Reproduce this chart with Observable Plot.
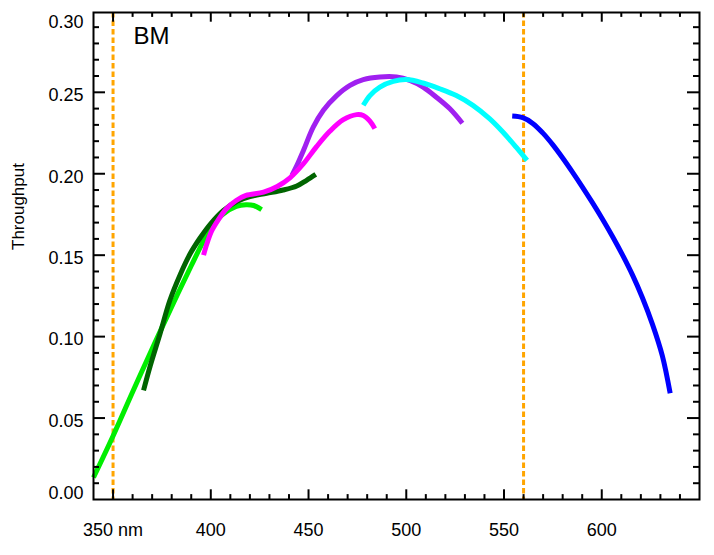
<!DOCTYPE html>
<html>
<head>
<meta charset="utf-8">
<style>
  html, body { margin: 0; padding: 0; background: #fff; }
  svg { display: block; }
</style>
<script src="https://cdn.jsdelivr.net/npm/d3@7"></script>
<script src="https://cdn.jsdelivr.net/npm/@observablehq/plot@0.6"></script>
</head>
<body>
<div id="chart"></div>
<script>
// ---- data ----
const greenWl  = [340, 350, 360, 366, 375, 383, 390, 396, 401, 406, 413, 418, 422, 426];
const greenVal = [0.0135, 0.039, 0.066, 0.082, 0.1055, 0.126, 0.1435, 0.158, 0.168, 0.175, 0.180, 0.181, 0.1805, 0.178];

const dkgreenWl  = [365.6, 369, 374, 379, 384.5, 389.5, 394.6, 399.7, 406.5, 413.3, 420, 428.6, 437, 444, 449, 453.7];
const dkgreenVal = [0.067, 0.082, 0.1016, 0.122, 0.1385, 0.151, 0.1607, 0.169, 0.1775, 0.183, 0.186, 0.188, 0.19, 0.1925, 0.196, 0.1996];

const magentaWl  = [396.3, 398, 400.5, 404, 408, 413, 418, 427, 434, 440.5, 447.3, 454.2, 461, 467.8, 474.6, 478, 481.4, 483.9];
const magentaVal = [0.150, 0.157, 0.165, 0.172, 0.1785, 0.1836, 0.1867, 0.1887, 0.1922, 0.1975, 0.206, 0.2168, 0.2262, 0.2332, 0.2363, 0.2358, 0.2323, 0.2277];

const purpleWl  = [441.5, 444, 447.4, 452.4, 457.6, 464.4, 471.2, 478, 486.5, 495, 501.8, 508.6, 515.4, 522.2, 528.7];
const purpleVal = [0.199, 0.205, 0.2143, 0.2286, 0.239, 0.248, 0.2543, 0.2578, 0.2594, 0.2594, 0.2573, 0.2532, 0.247, 0.24, 0.231];

const cyanWl  = [478, 481.4, 486.5, 493.3, 500.1, 508.6, 517.1, 525.6, 534.1, 542.6, 549.4, 556.2, 561.8];
const cyanVal = [0.242, 0.248, 0.2532, 0.2567, 0.2578, 0.2557, 0.2522, 0.248, 0.242, 0.2338, 0.2256, 0.2163, 0.2082];

const blueWl  = [554.2, 559.6, 564.7, 569.8, 574.9, 580, 585.1, 590.2, 595.3, 600.4, 605.5, 610.6, 615.7, 620.8, 625.9, 631, 635];
const blueVal = [0.2354, 0.2344, 0.2309, 0.2251, 0.2179, 0.2097, 0.2009, 0.1917, 0.1821, 0.1721, 0.1615, 0.1502, 0.1379, 0.1239, 0.1077, 0.0882, 0.0652];

const markerLines = [350, 560];

const xTickLabels = [350, 400, 450, 500, 550, 600];
const yTickLabels = [0.00, 0.05, 0.10, 0.15, 0.20, 0.25, 0.30];
const xMajor = [350, 400, 450, 500, 550, 600];
const yMajor = [0.05, 0.10, 0.15, 0.20, 0.25];
const xMinor = d3.range(350, 650, 10).filter(d => d % 50 !== 0);
const yMinor = d3.range(1, 30).map(i => i / 100).filter((d, i) => (i + 1) % 5 !== 0);

const series = [
  {name: "green", wl: greenWl, val: greenVal, color: "#00ee00"},
  {name: "dkgreen", wl: dkgreenWl, val: dkgreenVal, color: "#006400"},
  {name: "purple", wl: purpleWl, val: purpleVal, color: "#a020f0"},
  {name: "magenta", wl: magentaWl, val: magentaVal, color: "#ff00ff"},
  {name: "cyan", wl: cyanWl, val: cyanVal, color: "#00ffff"},
  {name: "blue", wl: blueWl, val: blueVal, color: "#0000ff"}
];

// ---- layout ----
const W = 714, H = 555;
const mL = 93, mR = 15, mT = 12, mB = 56;
const fw = W - mL - mR, fh = H - mT - mB;
const font = "'Liberation Sans', Arial, Helvetica, sans-serif";

const lineMarks = series.map(s =>
  Plot.line(s.wl.map((w, i) => ({wl: w, v: s.val[i]})), {
    x: "wl", y: "v", stroke: s.color, strokeWidth: 5, curve: "catmull-rom",
    strokeLinecap: "butt", strokeLinejoin: "round"
  })
);

const fmt = d3.format(".2f");
const axisCommon = {tickSize: 0, tickPadding: 10, fontSize: 18, tickFormat: fmt, label: null, fill: "black"};

const chart = Plot.plot({
  width: W, height: H,
  marginLeft: mL, marginRight: mR, marginTop: mT, marginBottom: mB,
  style: {fontFamily: font, background: "white", color: "black"},
  x: {domain: [340, 650]},
  y: {domain: [0, 0.299]},
  marks: [
    Plot.ruleX(markerLines, {x: d => d, stroke: "#ffa500", strokeWidth: 3, strokeDasharray: "5.5,3"}),
    ...lineMarks,
    // inward ticks: bottom & top
    Plot.tickX(xMajor, {x: d => d, insetTop: fh - 9.7, stroke: "black", strokeWidth: 2}),
    Plot.tickX(xMinor, {x: d => d, insetTop: fh - 4.9, stroke: "black", strokeWidth: 2}),
    Plot.tickX(xMajor, {x: d => d, insetBottom: fh - 9.7, stroke: "black", strokeWidth: 2}),
    Plot.tickX(xMinor, {x: d => d, insetBottom: fh - 4.9, stroke: "black", strokeWidth: 2}),
    // inward ticks: left & right
    Plot.tickY(yMajor, {y: d => d, insetRight: fw - 12, stroke: "black", strokeWidth: 2}),
    Plot.tickY(yMinor, {y: d => d, insetRight: fw - 6, stroke: "black", strokeWidth: 2}),
    Plot.tickY(yMajor, {y: d => d, insetLeft: fw - 12, stroke: "black", strokeWidth: 2}),
    Plot.tickY(yMinor, {y: d => d, insetLeft: fw - 6, stroke: "black", strokeWidth: 2}),
    Plot.frame({stroke: "black", strokeWidth: 2}),
    // axes labels
    Plot.axisX(xTickLabels, {tickSize: 0, tickPadding: 24, fontSize: 18, label: null,
      tickFormat: d => d === 350 ? "350 nm" : String(d)}),
    Plot.axisY(yTickLabels.filter(d => d > 0 && d < 0.3), {...axisCommon, dy: 3}),
    Plot.axisY([yTickLabels[0]], {...axisCommon, dy: -6}),
    Plot.axisY([yTickLabels[yTickLabels.length - 1]], {...axisCommon, dy: 11}),
    Plot.text(["Throughput"], {frameAnchor: "left", text: d => d, rotate: -90, dx: -75, dy: -6,
      fontSize: 17, fill: "black"}),
    Plot.text(["BM"], {frameAnchor: "top-left", text: d => d, dx: 40, dy: 14, fontSize: 24,
      textAnchor: "start", lineAnchor: "top", fill: "black"})
  ]
});
document.getElementById("chart").appendChild(chart);
</script>
</body>
</html>
